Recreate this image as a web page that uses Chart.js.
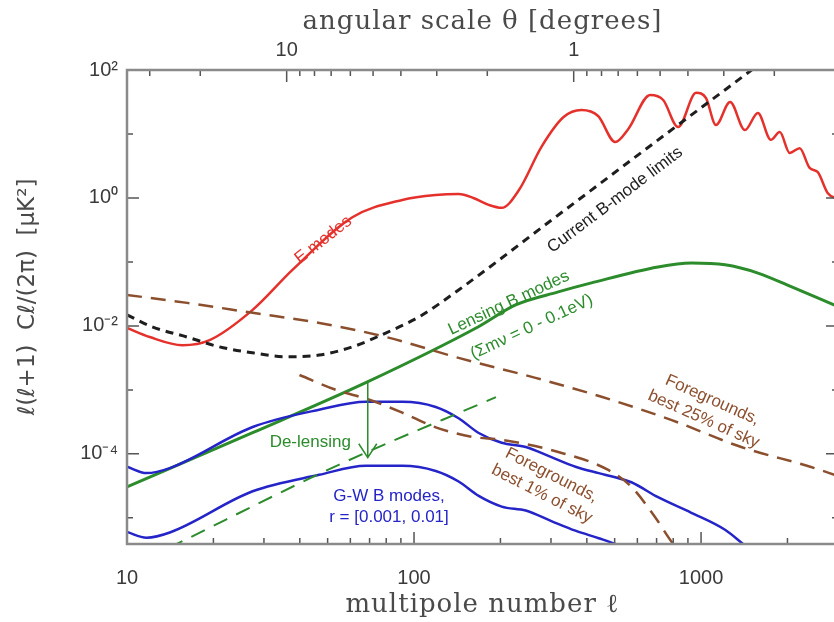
<!DOCTYPE html>
<html>
<head>
<meta charset="utf-8">
<script src="https://cdn.jsdelivr.net/npm/chart.js@4.4.1/dist/chart.umd.min.js"></script>
<style>
  html, body { margin: 0; padding: 0; background: #fff; overflow: hidden; }
  #chart { display: block; }
</style>
</head>
<body>
<canvas id="chart" width="846" height="622"></canvas>
<script>
"use strict";

// axis ranges: multipole l and l(l+1)C_l/2pi in uK^2
const ellMin = 10;
const ellMax = 3000;
const clMin = 3.9e-6;
const clMax = 100;

// tick marks (labels only on the listed ones)
const ellTicks = [10, 20, 30, 40, 50, 60, 70, 80, 90, 100, 200, 300, 400, 500, 600, 700, 800, 900, 1000, 2000, 3000];
const ellLabels = [10, 100, 1000];
const thetaTicks = [30, 20, 10, 9, 8, 7, 6, 5, 4, 3, 2, 1, 0.9, 0.8, 0.7, 0.6, 0.5, 0.4, 0.3, 0.2];
const thetaLabels = [10, 1];
const clTicks = [1e-5, 1e-4, 1e-3, 1e-2, 1e-1, 1, 10, 100];
const clLabels = ["10⁻⁴", "10⁻²", "10⁰", "10²"];
const clLabelExp = [-4, -2, 0, 2];

// E modes
const eEll = [10, 12, 15.6, 19.4, 27.4, 37.7, 61, 91, 119, 143, 161, 182, 202, 232, 278, 332, 383, 438, 502, 558, 665, 738, 832, 961, 1040, 1127, 1262, 1422, 1578, 1750, 1880, 2037, 2206, 2390, 2547, 2760, 3000];
const eCl = [0.0093, 0.0067, 0.0050, 0.006, 0.0178, 0.075, 0.50, 0.93, 1.11, 1.15, 1.0, 0.78, 0.70, 1.33, 6.3, 18.4, 23.7, 19.1, 7.5, 12, 40.8, 34, 12.8, 43.9, 36.5, 13.8, 31.6, 11.5, 21.3, 8.1, 10.7, 5.05, 6.0, 2.94, 2.55, 1.2, 0.95];

// current B-mode limits
const limitEll = [10, 12.3, 16.2, 21, 27.4, 35.9, 46.7, 61, 80, 104, 143, 300, 700, 1500];
const limitCl = [0.0149, 0.0096, 0.0067, 0.0047, 0.0038, 0.0033, 0.0035, 0.0047, 0.0078, 0.0138, 0.0365, 0.444, 7.76, 100];

// lensing B modes
const lensEll = [10, 27.4, 68.8, 167, 226, 318, 415, 708, 925, 1212, 1578, 2060, 3000];
const lensCl = [3.05e-5, 0.000214, 0.00133, 0.0096, 0.0213, 0.034, 0.047, 0.0835, 0.096, 0.090, 0.067, 0.041, 0.020];

// residual lensing after de-lensing
const delensEll = [14, 54.9, 193];
const delensCl = [3.4e-6, 6.8e-5, 0.00077];

// foregrounds, best 25% of sky
const fg25Ell = [10, 16.2, 27.4, 46.8, 80, 143, 265, 450, 786, 1380, 2400, 3000];
const fg25Cl = [0.0305, 0.0229, 0.016, 0.0111, 0.0067, 0.00316, 0.00154, 0.00078, 0.00034, 0.000128, 6.3e-5, 4.5e-5];

// foregrounds, best 1% of sky
const fg1Ell = [39.9, 53.5, 69.9, 91, 119, 159, 202, 318, 475, 572, 690, 800, 902];
const fg1Cl = [0.00171, 0.0010, 0.0007, 0.00044, 0.00026, 0.000185, 0.000166, 0.000107, 5.6e-5, 3.05e-5, 1.04e-5, 3.9e-6, 2.2e-6];

// gravity-wave B modes, r = 0.01 and r = 0.001
const gwHighEll = [10, 11.7, 14.1, 27.4, 46.7, 68, 91, 119, 143, 168, 202, 245, 301, 365, 440, 502, 572, 708, 925, 1212, 1400, 1700];
const gwHighCl = [6.3e-5, 5.0e-5, 6.0e-5, 0.000263, 0.00049, 0.00065, 0.00065, 0.00054, 0.00036, 0.000212, 0.000149, 0.000128, 8.9e-5, 6.3e-5, 5.0e-5, 4.3e-5, 3.6e-5, 2.1e-5, 1.2e-5, 6.5e-6, 3.9e-6, 1.9e-6];
const gwLowEll = [10, 11.7, 14.1, 27.4, 46.7, 68, 91, 119, 143, 168, 202, 245, 301, 365, 440, 502, 572, 708];
const gwLowCl = [6.0e-6, 4.9e-6, 5.9e-6, 2.6e-5, 4.7e-5, 6.5e-5, 6.5e-5, 5.4e-5, 3.7e-5, 2.2e-5, 1.5e-5, 1.3e-5, 8.9e-6, 6.3e-6, 4.8e-6, 3.9e-6, 2.9e-6, 1.8e-6];

const RED = "#e5312c";
const GREEN = "#2c8c2c";
const BLUE = "#2424c8";
const BROWN = "#8c4f2e";
const BLACK = "#1e1e1e";
const TEXT = "#3a3a3a";
const SANS = "'Liberation Sans', Arial, sans-serif";

function pts(xs, ys) {
  return xs.map((x, i) => ({ x: x, y: ys[i] }));
}

function line(data, color, width, dash) {
  return {
    data: data,
    borderColor: color,
    borderWidth: width,
    borderDash: dash || [],
    pointRadius: 0,
    fill: false,
    cubicInterpolationMode: "monotone",
    xAxisID: "x",
    yAxisID: "y",
  };
}

// text on the plot, placed at (l, Cl)
const notes = [
  { text: ["E modes"], l: 48.3, cl: 0.22, angle: -38, color: RED },
  { text: ["Current B-mode limits"], l: 502, cl: 0.93, angle: -37, color: BLACK },
  { text: ["Lensing B modes"], l: 214, cl: 0.0229, angle: -25, color: GREEN },
  { text: ["(Σmν = 0 - 0.1eV)"], l: 257, cl: 0.0096, angle: -25, color: GREEN },
  { text: ["Foregrounds,", "best 25% of sky"], l: 1057, cl: 0.00049, angle: 24, color: BROWN },
  { text: ["Foregrounds,", "best 1% of sky"], l: 290, cl: 3.3e-5, angle: 27, color: BROWN },
  { text: ["De-lensing"], l: 43.5, cl: 0.000154, angle: 0, color: GREEN },
  { text: ["G-W B modes,", "r = [0.001, 0.01]"], l: 81.8, cl: 1.48e-5, angle: 0, color: BLUE },
];

// de-lensing arrow: from lensing curve down to de-lensed curve
const arrowEll = 69;
const arrowFrom = 0.00133;
const arrowTo = 8.7e-5;

const overlay = {
  id: "overlay",
  afterDatasetsDraw(chart) {
    const { ctx, chartArea: a } = chart;
    const x = chart.scales.x;
    const xTop = chart.scales.xTop;
    const y = chart.scales.y;

    ctx.save();
    // inward ticks
    ctx.strokeStyle = "#555";
    ctx.lineWidth = 1.5;
    ctx.beginPath();
    ellTicks.forEach((v) => {
      const px = x.getPixelForValue(v);
      const len = ellLabels.includes(v) ? 12 : 6;
      ctx.moveTo(px, a.bottom);
      ctx.lineTo(px, a.bottom - len);
    });
    thetaTicks.forEach((v) => {
      const px = xTop.getPixelForValue(v);
      const len = thetaLabels.includes(v) ? 12 : 6;
      ctx.moveTo(px, a.top);
      ctx.lineTo(px, a.top + len);
    });
    clTicks.forEach((v) => {
      const py = y.getPixelForValue(v);
      const len = clLabelExp.includes(Math.round(Math.log10(v))) ? 12 : 6;
      ctx.moveTo(a.left, py);
      ctx.lineTo(a.left + len, py);
      ctx.moveTo(a.right, py);
      ctx.lineTo(a.right - len, py);
    });
    ctx.stroke();

    // frame
    ctx.strokeStyle = "#8a8a8a";
    ctx.lineWidth = 2.5;
    ctx.strokeRect(a.left, a.top, a.right - a.left, a.bottom - a.top);

    // arrow
    const ax = x.getPixelForValue(arrowEll);
    const ay0 = y.getPixelForValue(arrowFrom);
    const ay1 = y.getPixelForValue(arrowTo);
    ctx.strokeStyle = GREEN;
    ctx.lineWidth = 1.5;
    ctx.beginPath();
    ctx.moveTo(ax, ay0);
    ctx.lineTo(ax, ay1);
    ctx.moveTo(ax - 9, ay1 - 14);
    ctx.lineTo(ax, ay1);
    ctx.lineTo(ax + 9, ay1 - 14);
    ctx.stroke();

    // labels
    ctx.font = "17px " + SANS;
    ctx.textBaseline = "middle";
    notes.forEach((n) => {
      ctx.save();
      ctx.translate(x.getPixelForValue(n.l), y.getPixelForValue(n.cl));
      ctx.rotate((n.angle * Math.PI) / 180);
      ctx.fillStyle = n.color;
      ctx.textAlign = "center";
      n.text.forEach((s, i) => {
        ctx.fillText(s, 0, (i - (n.text.length - 1) / 2) * 21);
      });
      ctx.restore();
    });

    // axis titles
    const cx = (a.left + a.right) / 2;
    ctx.fillStyle = "#4a4a4a";
    ctx.textAlign = "center";
    ctx.letterSpacing = "1px";
    ctx.font = "26px 'DejaVu Serif', serif";
    ctx.fillText("angular scale θ [degrees]", cx, 22);
    ctx.fillText("multipole number ℓ", cx, 605);
    ctx.letterSpacing = "0px";
    ctx.save();
    ctx.translate(28, (a.top + a.bottom) / 2 - 10);
    ctx.rotate(-Math.PI / 2);
    ctx.font = "23px 'DejaVu Sans', sans-serif";
    ctx.fillText("ℓ(ℓ+1)  Cℓ/(2π)  [μK²]", 0, 0);
    ctx.restore();
    ctx.restore();
  },
};

const tickFont = { family: SANS, size: 20 };

function noPad(s) {
  s.paddingLeft = 0;
  s.paddingRight = 0;
  s.paddingTop = 0;
  s.paddingBottom = 0;
}

new Chart(document.getElementById("chart"), {
  type: "line",
  data: {
    datasets: [
      line(pts(fg25Ell, fg25Cl), BROWN, 2.5, [15, 9]),
      line(pts(fg1Ell, fg1Cl), BROWN, 2.5, [15, 9]),
      line(pts(delensEll, delensCl), GREEN, 2, [15, 10]),
      line(pts(gwHighEll, gwHighCl), BLUE, 2.5),
      line(pts(gwLowEll, gwLowCl), BLUE, 2.5),
      line(pts(lensEll, lensCl), GREEN, 3),
      line(pts(limitEll, limitCl), BLACK, 3, [8, 6]),
      line(pts(eEll, eCl), RED, 2.5),
    ],
  },
  options: {
    responsive: false,
    animation: false,
    layout: { padding: { left: 0, right: 8, top: 0, bottom: 0 } },
    plugins: { legend: { display: false }, tooltip: { enabled: false } },
    scales: {
      x: {
        type: "logarithmic",
        position: "bottom",
        min: ellMin,
        max: ellMax,
        grid: { display: false, drawTicks: false },
        border: { display: false },
        afterBuildTicks: (s) => { s.ticks = ellTicks.map((v) => ({ value: v })); },
        afterFit: (s) => { s.height = 78; noPad(s); },
        ticks: {
          autoSkip: false,
          maxRotation: 0,
          padding: 22,
          font: tickFont,
          color: TEXT,
          callback: (v) => (ellLabels.includes(v) ? String(v) : ""),
        },
      },
      xTop: {
        type: "logarithmic",
        position: "top",
        reverse: true,
        min: 360 / ellMax,
        max: 360 / ellMin,
        grid: { display: false, drawTicks: false },
        border: { display: false },
        afterBuildTicks: (s) => { s.ticks = thetaTicks.map((v) => ({ value: v })); },
        afterFit: (s) => { s.height = 70; noPad(s); },
        ticks: {
          autoSkip: false,
          maxRotation: 0,
          padding: 8,
          font: tickFont,
          color: TEXT,
          callback: (v) => (thetaLabels.includes(v) ? String(v) : ""),
        },
      },
      y: {
        type: "logarithmic",
        position: "left",
        min: clMin,
        max: clMax,
        grid: { display: false, drawTicks: false },
        border: { display: false },
        afterBuildTicks: (s) => { s.ticks = clTicks.map((v) => ({ value: v })); },
        afterFit: (s) => { s.width = 127; noPad(s); },
        ticks: {
          autoSkip: false,
          padding: 9,
          font: tickFont,
          color: TEXT,
          callback: (v) => {
            const i = clLabelExp.indexOf(Math.round(Math.log10(v)));
            return i >= 0 ? clLabels[i] : "";
          },
        },
      },
    },
  },
  plugins: [overlay],
});
</script>
</body>
</html>
